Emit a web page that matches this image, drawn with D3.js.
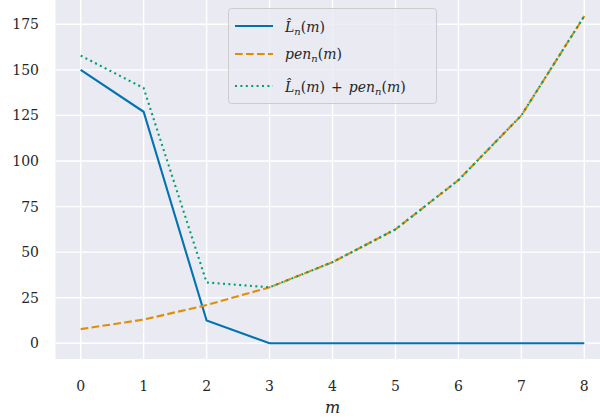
<!DOCTYPE html>
<html>
<head>
<meta charset="utf-8">
<script src="https://cdn.jsdelivr.net/npm/d3@7"></script>
<style>
  body { margin: 0; background: #fff; }
  svg { display: block; }
  .tick-label { font-family: "DejaVu Serif"; font-size: 14px; fill: #262626; }
  .math { font-family: "DejaVu Serif"; font-size: 14px; fill: #262626; }
</style>
</head>
<body>
<div id="chart"></div>
<script>
// values
var mValues = [0, 1, 2, 3, 4, 5, 6, 7, 8];
var lossValues = [150, 127, 12.5, 0, 0, 0, 0, 0, 0];
var penValues = [7.8, 13, 21, 30.7, 44.5, 62.5, 89.5, 125, 179.5];
var sumValues = [157.8, 140, 33.4, 30.7, 44.5, 62.5, 89.5, 125, 179.5];
var yTicks = [0, 25, 50, 75, 100, 125, 150, 175];

var width = 600, height = 418;
var plot = {left: 55.5, right: 609.5, top: 0, bottom: 359};

var svg = d3.select("#chart").append("svg")
    .attr("width", width)
    .attr("height", height);

// scales
var xscale = d3.scaleLinear().domain([-0.4, 8.4]).range([plot.left, plot.right]);
var yscale = d3.scaleLinear().domain([-8.6, 188.3]).range([plot.bottom, plot.top]);

// background
svg.append("rect")
    .attr("x", plot.left).attr("y", plot.top)
    .attr("width", plot.right - plot.left)
    .attr("height", plot.bottom - plot.top)
    .attr("fill", "#eaeaf2");

// grid lines
var grid = svg.append("g").attr("stroke", "#fff").attr("stroke-width", 1.4);
grid.selectAll("line.v").data(mValues).join("line")
    .attr("class", "v")
    .attr("x1", d => xscale(d)).attr("x2", d => xscale(d))
    .attr("y1", plot.top).attr("y2", plot.bottom);
grid.selectAll("line.h").data(yTicks).join("line")
    .attr("class", "h")
    .attr("x1", plot.left).attr("x2", plot.right)
    .attr("y1", d => yscale(d)).attr("y2", d => yscale(d));

// tick labels
svg.append("g").selectAll("text").data(mValues).join("text")
    .attr("class", "tick-label")
    .attr("x", d => xscale(d))
    .attr("y", 391)
    .attr("text-anchor", "middle")
    .text(d => d);

svg.append("g").selectAll("text").data(yTicks).join("text")
    .attr("class", "tick-label")
    .attr("x", 39)
    .attr("y", d => yscale(d) + 5)
    .attr("text-anchor", "end")
    .text(d => d);

// x axis label
svg.append("text")
    .attr("class", "math")
    .attr("x", (xscale(0) + xscale(8)) / 2)
    .attr("y", 413)
    .attr("text-anchor", "middle")
    .style("font-style", "italic")
    .style("font-size", "16px")
    .text("m");

// lines
var series = [
  {name: "loss", values: lossValues, color: "#0173b2", dash: null},
  {name: "pen", values: penValues, color: "#de8f05", dash: "7.7,3.3"},
  {name: "sum", values: sumValues, color: "#029e73", dash: "2,3.4"}
];

var line = d3.line()
    .x((d, i) => xscale(mValues[i]))
    .y(d => yscale(d));

svg.append("g").selectAll("path").data(series).join("path")
    .attr("fill", "none")
    .attr("stroke", d => d.color)
    .attr("stroke-width", 2.1)
    .attr("stroke-dasharray", d => d.dash)
    .attr("d", d => line(d.values));

// legend
var legend = svg.append("g");
legend.append("rect")
    .attr("x", 228.5).attr("y", 8.5)
    .attr("width", 208).attr("height", 95)
    .attr("rx", 3)
    .attr("fill", "#eaeaf2").attr("fill-opacity", 0.8)
    .attr("stroke", "#cccccc").attr("stroke-width", 1);

var rowsY = [26, 54, 86];
legend.selectAll("line").data(series).join("line")
    .attr("x1", 235).attr("x2", 273)
    .attr("y1", (d, i) => rowsY[i]).attr("y2", (d, i) => rowsY[i])
    .attr("stroke", d => d.color)
    .attr("stroke-width", 2.1)
    .attr("stroke-dasharray", d => d.dash);

function hatL(t) {
  t.append("tspan").style("font-style", "italic").text("L\u0302");
  t.append("tspan").style("font-style", "italic").attr("dy", 3).style("font-size", "10px").text("n");
  t.append("tspan").attr("dy", -3).text("(");
  t.append("tspan").style("font-style", "italic").text("m");
  t.append("tspan").text(")");
}
function pen(t, dx) {
  t.append("tspan").style("font-style", "italic").attr("dx", dx || 0).text("pen");
  t.append("tspan").style("font-style", "italic").attr("dy", 3).style("font-size", "10px").text("n");
  t.append("tspan").attr("dy", -3).text("(");
  t.append("tspan").style("font-style", "italic").text("m");
  t.append("tspan").text(")");
}

var t1 = legend.append("text").attr("class", "math").attr("x", 285).attr("y", rowsY[0] + 6);
hatL(t1);
var t2 = legend.append("text").attr("class", "math").attr("x", 285).attr("y", rowsY[1] + 5);
pen(t2);
var t3 = legend.append("text").attr("class", "math").attr("x", 285).attr("y", rowsY[2] + 6);
hatL(t3);
t3.append("tspan").attr("dx", 6).text("+");
pen(t3, 6);
</script>
</body>
</html>
